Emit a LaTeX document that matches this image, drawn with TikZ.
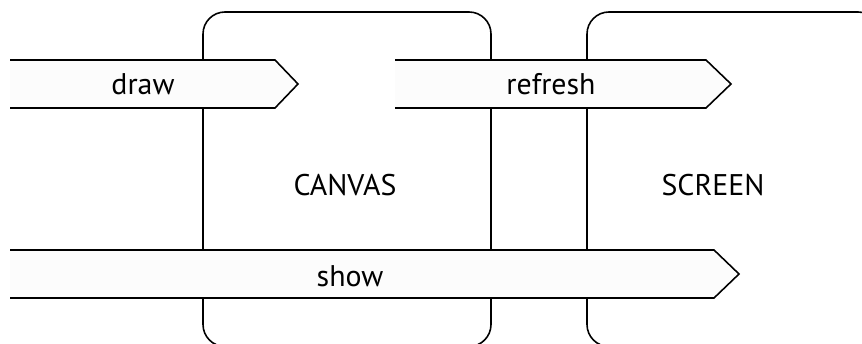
\documentclass[tikz,border=0pt]{standalone}
\usepackage{fontspec}
\setmainfont{PT Sans}

\begin{document}
\begin{tikzpicture}[x=1cm,y=1cm]
\tikzset{
  area/.style={draw,line width=0.9pt,rounded corners=0.44cm},
  band/.style={draw,line width=0.9pt,fill=white!99!black},
  label/.style={font=\fontsize{17}{20}\selectfont,inner sep=1pt}
}
\useasboundingbox (0,0) rectangle (17.24,6.88);
\clip (0,0) rectangle (17.24,6.88);
% the two areas
\draw[area] (4.06,-0.05) rectangle (9.82,6.64);
\draw[area] (11.74,-0.05) rectangle (17.60,6.64);
\node[label] (l_canvas) at (6.90,3.18) {CANVAS};
\node[label] (l_screen) at (14.26,3.18) {SCREEN};
% the bands
\filldraw[band] (0.20,5.68) -- (5.50,5.68) -- (5.96,5.20) -- (5.50,4.72) -- (0.20,4.72);
\filldraw[band] (7.90,5.68) -- (14.12,5.68) -- (14.62,5.20) -- (14.12,4.72) -- (7.90,4.72);
\filldraw[band] (0.20,1.88) -- (14.28,1.88) -- (14.78,1.40) -- (14.28,0.92) -- (0.20,0.92);
\node[label] (l_draw) at (2.86,5.20) {draw};
\node[label] (l_refresh) at (11.02,5.20) {refresh};
\node[label] (l_show) at (7.00,1.36) {show};
\end{tikzpicture}
\end{document}
